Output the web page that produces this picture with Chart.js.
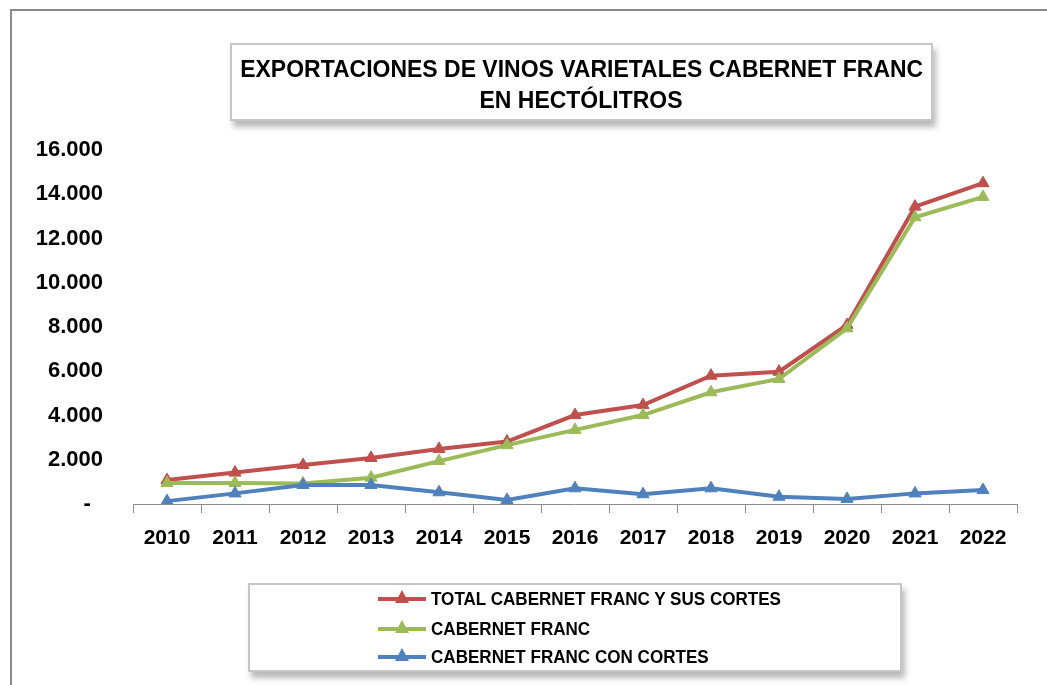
<!DOCTYPE html>
<html>
<head>
<meta charset="utf-8">
<script src="https://cdn.jsdelivr.net/npm/chart.js@4/dist/chart.umd.min.js"></script>
<style>
  html, body { margin: 0; padding: 0; background: #fff; }
  #wrap { position: relative; width: 1047px; height: 685px; overflow: hidden; }
  #frame { position: absolute; left: 10px; top: 9px; width: 1100px; height: 700px;
           border-left: 2px solid #8a8a8a; border-top: 2px solid #8a8a8a; }
  canvas { position: absolute; left: 0; top: 0; }
  .box { position: absolute; background: #fff; border: 2px solid #c6c6c6;
         box-shadow: 3px 6px 6px rgba(0,0,0,0.28); box-sizing: border-box; }
  #title { left: 230px; top: 43px; width: 703px; height: 78px; }
  .tline { position: absolute; left: -300px; width: 1299px; text-align: center; white-space: nowrap;
           font-family: "Liberation Sans Narrow", "Arial Narrow", "Liberation Sans", sans-serif;
           font-weight: bold; font-size: 24px; color: #000; line-height: 24px; }
  .fit { display: inline-block; transform-origin: center center; }
  #legend { left: 248px; top: 583px; width: 654px; height: 89px; }
  .item { position: absolute; left: 128px; height: 24px; }
  .sw { position: absolute; left: 0; top: 10px; width: 48px; height: 4px; }
  .tri { position: absolute; left: 17px; top: 3px; width: 0; height: 0;
         border-left: 7px solid transparent; border-right: 7px solid transparent; border-bottom: 13px solid; }
  .ltxt { position: absolute; left: 53px; top: 0; white-space: nowrap; transform-origin: left center;
          font-family: "Liberation Sans Narrow", "Arial Narrow", "Liberation Sans", sans-serif;
          font-weight: bold; font-size: 19px; line-height: 24px; color: #000; }
</style>
</head>
<body>
<div id="wrap">
  <div id="frame"></div>
  <canvas id="c" width="1047" height="685"></canvas>
  <div id="title" class="box">
    <div class="tline" style="top:12px"><span class="fit" id="t1"></span></div>
    <div class="tline" style="top:43px"><span class="fit" id="t2"></span></div>
  </div>
  <div id="legend" class="box"></div>
</div>
<script>
const titleLines = ["EXPORTACIONES DE VINOS VARIETALES CABERNET FRANC", "EN HECTÓLITROS"];
const years = ["2010","2011","2012","2013","2014","2015","2016","2017","2018","2019","2020","2021","2022"];
const seriesNames = ["TOTAL CABERNET FRANC Y SUS CORTES", "CABERNET FRANC", "CABERNET FRANC CON CORTES"];
const totalCF   = [1080, 1420, 1760, 2080, 2490, 2820, 4020, 4470, 5800, 5980, 8090, 13440, 14500];
const cabFranc  = [950, 950, 930, 1190, 1940, 2660, 3350, 4020, 5050, 5650, 7940, 12960, 13880];
const conCortes = [130, 480, 860, 860, 530, 180, 710, 440, 710, 330, 230, 480, 630];
const yTicks = [0, 2000, 4000, 6000, 8000, 10000, 12000, 14000, 16000];
const colors = ["#C0504D", "#9BBB59", "#4F81BD"];
const legendWidths = [350, 158, 278];

function fmt(v) {
  if (v === 0) return "-  ";
  return String(v).replace(/\B(?=(\d{3})+(?!\d))/g, ".");
}

const values = [totalCF, cabFranc, conCortes];
const datasets = seriesNames.map((n, i) => ({
  label: n,
  data: values[i],
  borderColor: colors[i],
  backgroundColor: colors[i],
  borderWidth: 4,
  pointStyle: "triangle",
  pointRadius: 7,
  pointHoverRadius: 7,
  pointBorderWidth: 1,
  pointBackgroundColor: colors[i],
  pointBorderColor: colors[i],
  tension: 0,
  fill: false
}));

new Chart(document.getElementById("c"), {
  type: "line",
  data: { labels: years, datasets: datasets.slice().reverse() },
  options: {
    responsive: false,
    animation: false,
    layout: { padding: { left: 0, right: 30, top: 150, bottom: 0 } },
    plugins: { legend: { display: false }, title: { display: false }, tooltip: { enabled: false } },
    scales: {
      x: {
        offset: true,
        grid: { display: true, offset: true, drawOnChartArea: false, color: "#8c8c8c", tickLength: 9, lineWidth: 1 },
        border: { display: true, color: "#8c8c8c", width: 1 },
        ticks: {
          color: "#000", padding: 13, maxRotation: 0, autoSkip: false,
          font: { family: "'Liberation Sans Narrow', 'Arial Narrow', 'Liberation Sans', sans-serif", weight: "bold", size: 21 }
        },
        afterFit: s => { s.height = 181; }
      },
      y: {
        min: 0, max: 16000,
        afterBuildTicks: s => { s.ticks = yTicks.map(v => ({ value: v })); },
        grid: { display: false, drawTicks: false },
        border: { display: false },
        ticks: {
          color: "#000", padding: 30, callback: v => fmt(v),
          font: { family: "'Liberation Sans', Arial, sans-serif", weight: "bold", size: 22 }
        },
        afterFit: s => { s.width = 133; }
      }
    }
  }
});

// title
document.getElementById("t1").textContent = titleLines[0];
document.getElementById("t2").textContent = titleLines[1];
// legend
const leg = document.getElementById("legend");
const rowTops = [2, 32, 60];
seriesNames.forEach((n, i) => {
  const it = document.createElement("div");
  it.className = "item";
  it.style.top = rowTops[i] + "px";
  it.innerHTML = '<div class="sw" style="background:' + colors[i] + '"></div>' +
    '<div class="tri" style="border-bottom-color:' + colors[i] + '"></div>' +
    '<div class="ltxt"></div>';
  it.querySelector(".ltxt").textContent = n;
  leg.appendChild(it);
});

function fitAll() {
  const t1 = document.getElementById("t1");
  const w1 = t1.getBoundingClientRect().width;
  const sc = 683 / w1;
  t1.style.transform = "scaleX(" + sc + ")";
  document.getElementById("t2").style.transform = "scaleX(" + sc + ")";
  const ls = document.querySelectorAll(".ltxt");
  const w0 = ls[0].getBoundingClientRect().width;
  const s2 = legendWidths[0] / w0;
  ls.forEach(el => { el.style.transform = "scaleX(" + s2 + ")"; });
}
fitAll();
</script>
</body>
</html>
